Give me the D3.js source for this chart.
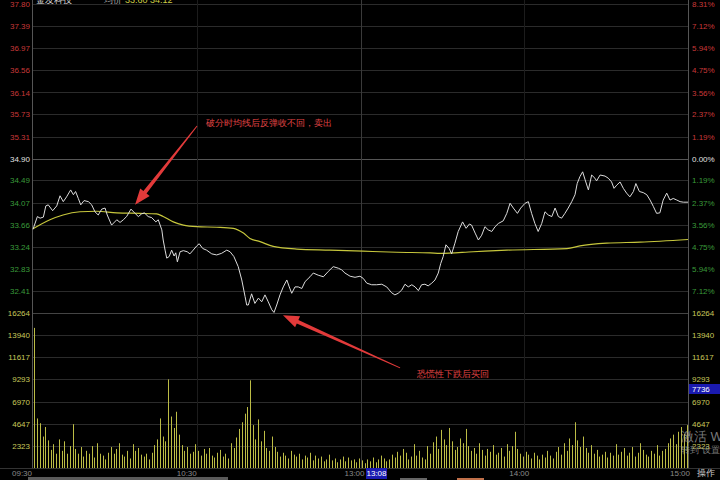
<!DOCTYPE html>
<html><head><meta charset="utf-8">
<script src="https://cdn.jsdelivr.net/npm/d3@7/dist/d3.min.js"></script>
<style>
html,body{margin:0;padding:0;background:#000;}
svg{display:block;}
text{font-family:"Liberation Sans",Arial,sans-serif;}
</style></head>
<body><svg id="c" width="720" height="480"></svg>
<script>
// ---------- data ----------
const prevClose = 34.90;
const priceLabels = ["37.80","37.39","36.97","36.56","36.14","35.73","35.31","34.90","34.49","34.07","33.66","33.24","32.83","32.41"];
const pctLabels = ["8.31%","7.12%","5.94%","4.75%","3.56%","2.37%","1.19%","0.00%","1.19%","2.37%","3.56%","4.75%","5.94%","7.12%"];
const volLabels = ["16264","13940","11617","9293","6970","4647","2323"];
const timeLabels = ["09:30","10:30","13:00","14:00","15:00"];
const timeLabelMinutes = [0,60,120,180,240];

const priceTime = [0,1.6,2.6,3.8,4.7,5.6,7.2,8.7,9.9,11.1,12.3,13.8,14.8,15.6,16.6,17.5,18.7,20.3,21.5,22.7,23.9,25.2,26.4,27.2,28.8,30.7,31.9,33.1,34.3,35.9,37.4,38.6,39.8,40.8,42.2,43.5,45.0,45.9,47.2,47.7,48.4,49.0,49.9,50.8,51.7,52.3,52.9,53.9,55.1,56.5,57.5,58.7,60.0,60.9,62.2,63.6,65.5,67.3,69.1,71.0,72.2,73.6,75.2,76.5,77.7,78.3,78.9,80.1,81.3,82.6,83.8,85.0,86.2,87.5,88.3,89.3,90.5,91.7,93.0,93.9,94.8,96.0,97.2,98.5,99.7,101.5,102.7,104.5,106.4,108.2,110.0,111.9,113.1,114.3,116.2,118.0,119.8,121.0,122.3,124.1,125.9,127.8,129.6,131.4,132.6,133.8,135.1,136.3,137.5,138.8,140.0,141.2,142.4,143.6,144.8,146.1,147.3,148.5,149.4,150.3,151.3,152.5,153.4,154.6,155.8,157.4,158.7,159.9,160.7,162.0,163.2,164.4,165.6,166.8,168.1,169.3,170.5,172.3,173.6,174.8,176.0,177.5,178.7,180.3,181.5,182.7,183.9,185.1,186.4,187.6,188.8,190.1,191.3,192.5,193.7,194.9,196.1,197.4,198.6,199.4,200.4,201.4,202.3,203.5,204.7,205.9,206.5,207.8,209.6,210.8,212.0,212.9,213.9,215.1,216.3,217.5,218.7,220.0,220.9,222.2,223.6,224.9,226.1,227.3,228.5,229.7,230.9,232.2,233.4,234.6,235.9,237.1,238.3,240];
const priceValue = [33.57,33.81,33.78,33.80,34.01,34.03,33.92,34.01,34.20,34.09,34.18,34.31,34.22,34.28,34.15,34.03,34.11,34.09,34.03,33.90,33.84,33.95,33.97,33.84,33.65,33.75,33.70,33.75,33.81,33.95,33.87,33.81,33.86,33.88,33.81,33.79,33.71,33.75,33.56,33.37,33.18,33.03,33.06,33.18,33.07,33.13,32.96,33.15,33.17,33.15,33.11,33.18,33.26,33.30,33.21,33.18,33.11,33.09,33.12,33.18,33.15,33.06,32.87,32.62,32.31,32.15,32.15,32.36,32.18,32.28,32.21,32.34,32.21,32.06,32.01,32.15,32.34,32.49,32.62,32.49,32.37,32.49,32.49,32.46,32.59,32.68,32.75,32.71,32.68,32.78,32.87,32.84,32.81,32.75,32.69,32.67,32.69,32.65,32.56,32.53,32.53,32.54,32.49,32.38,32.34,32.37,32.43,32.54,32.49,32.53,32.49,32.42,32.53,32.54,32.51,32.56,32.62,32.75,32.93,33.06,33.28,33.21,33.11,33.31,33.53,33.71,33.59,33.67,33.65,33.50,33.37,33.46,33.62,33.56,33.53,33.62,33.68,33.73,33.87,34.06,33.97,33.87,33.97,34.06,34.09,33.87,33.68,33.53,33.68,33.90,33.84,33.81,33.97,33.81,33.78,33.87,33.97,34.09,34.22,34.43,34.56,34.65,34.50,34.31,34.59,34.53,34.48,34.59,34.57,34.53,34.46,34.34,34.40,34.46,34.34,34.25,34.18,34.28,34.43,34.28,34.26,34.22,34.12,34.00,33.87,33.88,34.12,34.25,34.12,34.15,34.12,34.09,34.08,34.08];

const avgTime = [0,6.2,11.0,17.2,23.3,30.7,39.2,45.3,47.7,51.4,55.1,60.0,67.3,73.4,77.1,79.5,83.2,88.0,96.6,108.8,121.0,133.3,145.5,149.1,161.3,173.6,195.6,200.4,210.2,222.4,240];
const avgValue = [33.58,33.75,33.84,33.90,33.91,33.88,33.87,33.86,33.81,33.71,33.65,33.62,33.61,33.59,33.50,33.40,33.34,33.25,33.20,33.18,33.16,33.14,33.13,33.12,33.15,33.18,33.21,33.26,33.31,33.33,33.38];

const volume = [
14700,5200,4700,3300,4300,2900,1900,2500,1500,3000,
1800,2800,1500,2300,4600,2000,1500,2200,1200,1800,
1500,2300,1100,2600,1500,1300,900,1600,2200,1500,
2000,2600,1400,1200,1800,1000,2500,1800,2100,1400,
1200,1500,900,1600,2400,3000,5200,3300,2800,9300,
5400,4200,5900,3500,2400,1800,2200,1500,1700,2500,
1800,1300,2000,1500,2100,1300,1100,1600,1900,1200,
1500,1000,2600,2100,3200,4100,4800,5700,6400,9200,
4500,3000,5100,2800,3900,2100,1800,3300,2200,1700,
1200,1600,1300,1000,1800,1400,1200,1500,900,1300,
1100,1600,800,1300,1000,1200,700,900,1400,800,
1000,600,900,1200,700,1100,800,900,600,1000,
800,500,900,700,1100,600,900,1300,1000,700,
900,1400,1100,1700,1300,2000,1600,900,1200,2500,
1300,1800,1100,900,2300,1500,2700,3300,2000,4000,
3000,2400,4200,2800,1900,2200,3100,2600,4100,2300,
1800,2100,1500,2600,1900,1300,2000,1700,2400,1400,
1600,2100,1200,2500,1800,2300,3800,2000,1500,1200,
1700,1400,1000,1600,1300,900,1400,1100,1800,1300,
1000,1700,2200,1400,2600,1800,3100,2400,4800,2900,
2200,3300,2100,1600,2400,1500,1900,1200,1400,1700,
1100,1600,1300,2500,1400,1700,2100,1300,1600,2200,
1200,1600,2600,1900,1400,1200,1800,1500,2400,1300,
1800,2000,2600,3100,3500,2500,3800,4300,3600,4500];

const annotations = [
  {text:"破分时均线后反弹收不回，卖出", headT:37.4, headP:34.03, tailT:60.1, tailP:35.51, dx:9, dy:0},
  {text:"恐慌性下跌后买回", headT:91.6, headP:31.96, tailT:134.5, tailP:30.97, dx:17, dy:9}
];

// ---------- layout ----------
const svg = d3.select("#c");
const L = 33, R = 688;
const x = d3.scaleLinear().domain([0,240]).range([L,R]);
const yP = d3.scaleLinear().domain([32.00,37.80]).range([313,4]);
const yV = d3.scaleLinear().domain([0,16264]).range([468,313]);

svg.append("rect").attr("width",720).attr("height",480).attr("fill","#000");

// header (clipped at top, as in the reference)
const hdr = svg.append("g").attr("font-size",9);
hdr.append("text").attr("x",36).attr("y",3).attr("fill","#ddd").text("金发科技");
hdr.append("text").attr("x",104).attr("y",3).attr("fill","#aaa").text("均价");
hdr.append("text").attr("x",125).attr("y",3).attr("fill","#cc4").text("33.60 34.12");

// grid
const grid = svg.append("g");
const priceTickVals = priceLabels.map(Number);
grid.selectAll("line.hp").data(priceTickVals).join("line")
  .attr("x1",L).attr("x2",R)
  .attr("y1",d=>Math.round(yP(d))+0.5).attr("y2",d=>Math.round(yP(d))+0.5)
  .attr("stroke",d=>Math.abs(d-prevClose)<0.001?"#555":"#2b2b2b").attr("stroke-width",1);
const volTickVals = volLabels.map(Number);
grid.selectAll("line.hv").data(volTickVals.slice(1)).join("line")
  .attr("x1",L).attr("x2",R)
  .attr("y1",d=>Math.round(yV(d))+0.5).attr("y2",d=>Math.round(yV(d))+0.5)
  .attr("stroke","#2b2b2b");
grid.append("line").attr("x1",L).attr("x2",R).attr("y1",313.5).attr("y2",313.5).attr("stroke","#444");
grid.append("line").attr("x1",0).attr("x2",720).attr("y1",468.5).attr("y2",468.5).attr("stroke","#333");
[60,120,180].forEach(m=>{
  grid.append("line").attr("x1",Math.round(x(m))+0.5).attr("x2",Math.round(x(m))+0.5)
    .attr("y1",0).attr("y2",468).attr("stroke",m===120?"#3a3a3a":"#1c1c1c");
});
grid.append("line").attr("x1",L-0.5).attr("x2",L-0.5).attr("y1",0).attr("y2",468).attr("stroke","#555");
grid.append("line").attr("x1",R+0.5).attr("x2",R+0.5).attr("y1",0).attr("y2",468).attr("stroke","#555");

// axes
function colorFor(v){ return Math.abs(v-prevClose)<0.001?"#e0e0e0":(v>prevClose?"#c83838":"#3a9a3a"); }
const axL = svg.append("g").attr("transform",`translate(${L-3},0)`)
  .call(d3.axisLeft(yP).tickValues(priceTickVals).tickFormat(d3.format(".2f")).tickSize(0).tickPadding(0));
axL.select(".domain").remove();
axL.selectAll("text").attr("font-size",8).attr("fill",d=>colorFor(d)).attr("font-family","Liberation Sans, Arial");

const axR = svg.append("g").attr("transform",`translate(${R+4},0)`)
  .call(d3.axisRight(yP).tickValues(priceTickVals).tickFormat((d,i)=>pctLabels[i]).tickSize(0).tickPadding(0));
axR.select(".domain").remove();
axR.selectAll("text").attr("font-size",8).attr("fill",d=>colorFor(d)).attr("font-family","Liberation Sans, Arial");

const axVL = svg.append("g").attr("transform",`translate(${L-3},0)`)
  .call(d3.axisLeft(yV).tickValues(volTickVals).tickFormat(d=>String(d)).tickSize(0).tickPadding(0));
axVL.select(".domain").remove();
axVL.selectAll("text").attr("font-size",8).attr("fill","#c8c85a").attr("font-family","Liberation Sans, Arial");
const axVR = svg.append("g").attr("transform",`translate(${R+4},0)`)
  .call(d3.axisRight(yV).tickValues(volTickVals).tickFormat(d=>String(d)).tickSize(0).tickPadding(0));
axVR.select(".domain").remove();
axVR.selectAll("text").attr("font-size",8).attr("fill","#c8c85a").attr("font-family","Liberation Sans, Arial");

// x axis labels
const xPosAdj = [-11,-10,-6,-5,-8];
const axX = svg.append("g").attr("transform","translate(0,476)");
axX.selectAll("text").data(timeLabels).join("text")
  .attr("x",(d,i)=>x(timeLabelMinutes[i])+xPosAdj[i]).attr("y",0)
  .attr("text-anchor","middle").attr("font-size",8).attr("fill","#8a8a8a").text(d=>d);
axX.append("text").attr("x",706).attr("y",0).attr("text-anchor","middle").attr("font-size",9).attr("fill","#ccc").text("操作");

// volume bars
svg.append("g").selectAll("line").data(volume).join("line")
  .attr("x1",(d,i)=>Math.round(x(i+0.5))+0.5).attr("x2",(d,i)=>Math.round(x(i+0.5))+0.5)
  .attr("y1",yV(0)).attr("y2",d=>yV(d))
  .attr("stroke","#bcbc45").attr("stroke-width",1);

// avg line
const avgData = avgTime.map((t,i)=>[t,avgValue[i]]);
svg.append("path").datum(avgData)
  .attr("d",d3.line().x(d=>x(d[0])).y(d=>yP(d[1])).curve(d3.curveMonotoneX))
  .attr("fill","none").attr("stroke","#c6c63c").attr("stroke-width",1.2);
// price line
const priceData = priceTime.map((t,i)=>[t,priceValue[i]]);
svg.append("path").datum(priceData)
  .attr("d",d3.line().x(d=>x(d[0])).y(d=>yP(d[1])))
  .attr("fill","none").attr("stroke","#dcdcdc").attr("stroke-width",1);

// cursor boxes
const cur = svg.append("g");
cur.append("rect").attr("x",366).attr("y",468).attr("width",21).attr("height",11).attr("fill","#1a1ab0");
cur.append("text").attr("x",376.5).attr("y",476).attr("text-anchor","middle").attr("font-size",8).attr("fill","#fff").text("13:08");
cur.append("rect").attr("x",689).attr("y",384).attr("width",31).attr("height",10).attr("fill","#1a1ab0");
cur.append("text").attr("x",692).attr("y",392).attr("font-size",8).attr("fill","#fff").text("7736");

// annotations
const ann = svg.append("g");
annotations.forEach(a=>{
  const hx=x(a.headT), hy=yP(a.headP), tx=x(a.tailT), ty=yP(a.tailP);
  const dxv=hx-tx, dyv=hy-ty, len=Math.hypot(dxv,dyv);
  const ux=dxv/len, uy=dyv/len, nx=-uy, ny=ux;
  const hl=16, bx=hx-ux*hl, by=hy-uy*hl;
  const pts=[[tx+nx*0.5,ty+ny*0.5],[bx+nx*2,by+ny*2],[bx+nx*6,by+ny*6],[hx,hy],[bx-nx*6,by-ny*6],[bx-nx*2,by-ny*2],[tx-nx*0.5,ty-ny*0.5]];
  ann.append("path").attr("d","M"+pts.map(p=>p.join(",")).join("L")+"Z").attr("fill","#e23a3a");
  ann.append("text").attr("x",tx+a.dx).attr("y",ty+a.dy).attr("font-size",9.2)
    .attr("font-family","Noto Sans CJK SC").attr("fill","#e04444").text(a.text);
});

// watermark (Windows activation overlay, as in the reference)
const wm = svg.append("g").attr("fill","#9a9a9a").attr("fill-opacity",0.8).attr("font-family","Noto Sans CJK SC");
wm.append("text").attr("x",681).attr("y",441).attr("font-size",13).text("激活 Windows");
wm.append("text").attr("x",681).attr("y",453).attr("font-size",8.5).text("转到“设置”以激活 Windows。");

// bottom tabs
svg.append("rect").attr("x",28).attr("y",477).attr("width",200).attr("height",3).attr("fill","#5a5a5a");
svg.append("rect").attr("x",400).attr("y",478).attr("width",27).attr("height",2).attr("fill","#666");
svg.append("rect").attr("x",457).attr("y",478).attr("width",27).attr("height",2).attr("fill","#c0704a");
</script></body></html>
